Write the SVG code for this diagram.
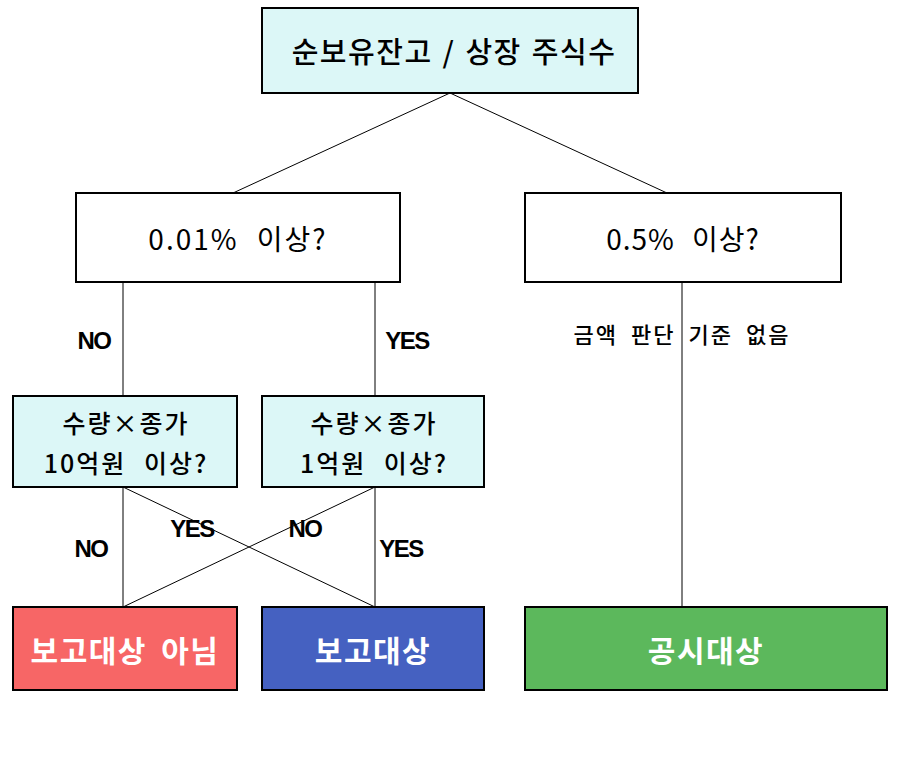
<svg xmlns="http://www.w3.org/2000/svg" width="902" height="763" viewBox="0 0 902 763">
<style>
text{font-family:"Noto Sans CJK KR","Noto Sans",sans-serif;text-anchor:middle;dominant-baseline:central;fill:#000}
.box{stroke:#000;stroke-width:2}
.q{fill:#dcf7f7}
.w{fill:#fff}
.lbl{font-family:"Liberation Sans","Noto Sans CJK KR",sans-serif;font-weight:bold;font-size:24px;letter-spacing:-1.5px}
.res{fill:#fff;font-weight:bold;font-size:30px;letter-spacing:1.5px;word-spacing:6px}
.conn line{stroke:#000;stroke-width:1}
</style>
<rect width="902" height="763" fill="#fff"/>
<g class="conn">
<line x1="450" y1="93" x2="233" y2="193"/>
<line x1="450" y1="93" x2="667" y2="193"/>
<line x1="123" y1="282" x2="123" y2="396"/>
<line x1="375" y1="282" x2="375" y2="396"/>
<line x1="682" y1="282" x2="682" y2="607"/>
<line x1="123" y1="487" x2="123" y2="607"/>
<line x1="123" y1="487" x2="375" y2="607"/>
<line x1="375" y1="487" x2="375" y2="607"/>
<line x1="375" y1="487" x2="123" y2="607"/>
<text class="lbl" x="94" y="340">NO</text>
<text class="lbl" x="407" y="340">YES</text>
<text x="682" y="333" font-size="22" font-weight="500" letter-spacing="2" word-spacing="6">금액 판단 기준 없음</text>
<text class="lbl" x="91" y="548">NO</text>
<text class="lbl" x="192" y="528">YES</text>
<text class="lbl" x="305" y="528">NO</text>
<text class="lbl" x="401" y="548">YES</text>
</g>
<g id="root"><rect class="box q" x="262" y="8" width="376" height="85"/><text x="454" y="50" font-size="29" font-weight="500" letter-spacing="1.5" word-spacing="2">순보유잔고 / 상장 주식수</text></g>
<g id="q1"><rect class="box w" x="76" y="193" width="324" height="89"/><text x="238" y="238" font-size="28" letter-spacing="2" word-spacing="10">0.01% 이상?</text></g>
<g id="q2"><rect class="box w" x="525" y="193" width="316" height="89"/><text x="683" y="238" font-size="28" letter-spacing="1" word-spacing="10">0.5% 이상?</text></g>
<g id="q3"><rect class="box q" x="13" y="396" width="224" height="91"/><text x="126" y="422" font-size="25" font-weight="500" letter-spacing="2">수량×종가</text><text x="126" y="462" font-size="25" font-weight="500" letter-spacing="2" word-spacing="10">10억원 이상?</text></g>
<g id="q4"><rect class="box q" x="262" y="396" width="222" height="91"/><text x="374" y="422" font-size="25" font-weight="500" letter-spacing="2">수량×종가</text><text x="374" y="462" font-size="25" font-weight="500" letter-spacing="2" word-spacing="10">1억원 이상?</text></g>
<g id="r1"><rect class="box" fill="#f76666" x="13" y="607" width="224" height="83"/><text class="res" x="125" y="649">보고대상 아님</text></g>
<g id="r2"><rect class="box" fill="#4561c1" x="262" y="607" width="222" height="83"/><text class="res" x="373" y="649">보고대상</text></g>
<g id="r3"><rect class="box" fill="#5cb85c" x="525" y="607" width="362" height="83"/><text class="res" x="706" y="649">공시대상</text></g>
</svg>
